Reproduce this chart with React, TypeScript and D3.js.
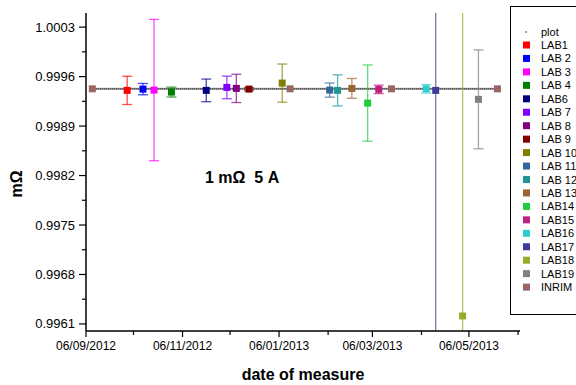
import React from "react";
import * as d3 from "d3";

const labs = ["LAB1","LAB 2","LAB 3","LAB 4","LAB6","LAB 7","LAB 8","LAB 9","LAB 10","LAB 11","LAB 12","LAB 13","LAB14","LAB15","LAB16","LAB17","LAB18","LAB19"];
const labDates = ["2012-10-02","2012-10-12","2012-10-19","2012-10-30","2012-11-21","2012-12-04","2012-12-10","2012-12-18","2013-01-08","2013-02-07","2013-02-12","2013-02-21","2013-03-03","2013-03-10","2013-04-09","2013-04-15","2013-05-02","2013-05-12"];
const labValues = [0.999405,0.999423,0.999409,0.999381,0.999405,0.999447,0.999433,0.999423,0.999508,0.999409,0.999405,0.999433,0.999225,0.999419,0.999427,0.999405,0.996213,0.999278];
const labUnc = [0.0002,0.00008,0.001,0.00007,0.00016,0.00016,0.0002,0.00002,0.00027,0.0001,0.00022,0.00014,0.00054,0.00006,0.00006,0.01,0.01,0.0007];
const labColors = ["#FF0000","#0000FF","#FF00FF","#008000","#000080","#8000FF","#800080","#800000","#808000","#336699","#219696","#996633","#1ECC3C","#C0207F","#33CCCC","#3D3D99","#99AA2A","#808080"];

const inrimDates = ["2012-09-10","2013-01-13","2013-03-18","2013-05-24"];
const inrimValues = [0.999427,0.999427,0.999427,0.999427];
const inrimColor = "#996666";

const yMajorTicks = [0.9961,0.9968,0.9975,0.9982,0.9989,0.9996,1.0003];
const yMinorTicks = [0.99645,0.99715,0.99785,0.99855,0.99925,0.99995];
const xMajorTicks = ["2012-09-06","2012-11-06","2013-01-06","2013-03-06","2013-05-06"];
const xMajorLabels = ["06/09/2012","06/11/2012","06/01/2013","06/03/2013","06/05/2013"];
const xMinorTicks = ["2012-10-06","2012-12-06","2013-02-06","2013-04-06","2013-06-06"];

const parse = (s: string) => { const [y,m,d] = s.split("-").map(Number); return new Date(y, m-1, d); };

const FONT = "'Liberation Sans', Arial, sans-serif";

export default function App() {
  const left = 86, right = 518, top = 13, bottom = 331;
  const x = d3.scaleTime().domain([parse("2012-09-06"), parse("2013-06-06")]).range([left, right]);
  const y = d3.scaleLinear().domain([0.9960, 1.0005]).range([bottom, top]);
  const sq = 7, cap = 5;

  const legendItems = [...labs.map((l,i)=>({label:l,color:labColors[i]})), {label:"INRIM", color: inrimColor}];

  const refY = y(inrimValues[0]);
  const x0 = x(parse(inrimDates[0])), x1 = x(parse(inrimDates[inrimDates.length-1]));

  return (
    <svg width={576} height={385} style={{position:"absolute", left:0, top:0}} fontFamily={FONT}>
      <defs>
        <clipPath id="plotclip"><rect x={left} y={top} width={right-left+2} height={bottom-top} /></clipPath>
      </defs>
      <rect width={576} height={385} fill="white" />
      <line x1={x0} x2={x1} y1={refY} y2={refY} stroke="#b0b0b0" strokeWidth={2} />
      <line x1={x0} x2={x1} y1={refY} y2={refY} stroke="#000" strokeWidth={1.2} strokeDasharray="1,1" />
      <g clipPath="url(#plotclip)">
        {labs.map((l,i)=>{
          const cx = x(parse(labDates[i]));
          const yt = y(labValues[i]+labUnc[i]);
          const yb = y(labValues[i]-labUnc[i]);
          return (
            <g key={l} stroke={labColors[i]} strokeOpacity={0.7} strokeWidth={1.3}>
              <line x1={cx} x2={cx} y1={yt} y2={yb} />
              <line x1={cx-cap} x2={cx+cap} y1={yt} y2={yt} />
              <line x1={cx-cap} x2={cx+cap} y1={yb} y2={yb} />
            </g>
          );
        })}
        {labs.map((l,i)=>{
          const cx = x(parse(labDates[i]));
          const cy = y(labValues[i]);
          return <rect key={l+"m"} x={cx-sq/2} y={cy-sq/2} width={sq} height={sq} fill={labColors[i]} />;
        })}
        {inrimDates.map((d,i)=>(
          <rect key={d} x={x(parse(d))-sq/2} y={y(inrimValues[i])-sq/2} width={sq} height={sq} fill={inrimColor} />
        ))}
      </g>
      <line x1={left} x2={left} y1={top} y2={bottom} stroke="#000" strokeWidth={1.5} />
      <line x1={left} x2={right+2} y1={bottom} y2={bottom} stroke="#000" strokeWidth={1.5} />
      {yMajorTicks.map((t,i)=>(
        <g key={"ym"+i}>
          <line x1={left-7} x2={left} y1={y(t)} y2={y(t)} stroke="#000" strokeWidth={1.2} />
          <text x={75} y={y(t)+4.5} textAnchor="end" fontSize={13} fill="#000">{t.toFixed(4)}</text>
        </g>
      ))}
      {yMinorTicks.map((t,i)=>(
        <line key={"yn"+i} x1={left-4} x2={left} y1={y(t)} y2={y(t)} stroke="#000" strokeWidth={1.2} />
      ))}
      {xMajorTicks.map((t,i)=>(
        <g key={"xm"+i}>
          <line x1={x(parse(t))} x2={x(parse(t))} y1={bottom} y2={bottom+6} stroke="#000" strokeWidth={1.2} />
          <text x={x(parse(t))} y={350} textAnchor="middle" fontSize={12} fill="#000">{xMajorLabels[i]}</text>
        </g>
      ))}
      {xMinorTicks.map((t,i)=>(
        <line key={"xn"+i} x1={x(parse(t))} x2={x(parse(t))} y1={bottom} y2={bottom+4} stroke="#000" strokeWidth={1.2} />
      ))}
      <text x={303} y={380} textAnchor="middle" fontSize={16} fontWeight="bold">date of measure</text>
      <text transform="translate(22,184) rotate(-90)" textAnchor="middle" fontSize={16} fontWeight="bold">mΩ</text>
      <text x={205} y={183} fontSize={16} fontWeight="bold" style={{whiteSpace:"pre"}}>{"1 mΩ  5 A"}</text>
      <rect x={510.5} y={6.5} width={80} height={308} fill="none" stroke="#000" strokeWidth={1} />
      <circle cx={526} cy={32} r={0.8} fill="#333" />
      <text x={541} y={36} fontSize={11}>plot</text>
      {legendItems.map((it,i)=>{
        const ly = 45 + i*13.45;
        return (
          <g key={"lg"+i}>
            <rect x={523} y={ly-3.5} width={7} height={7} fill={it.color} />
            <text x={541} y={ly+4} fontSize={11}>{it.label}</text>
          </g>
        );
      })}
    </svg>
  );
}
